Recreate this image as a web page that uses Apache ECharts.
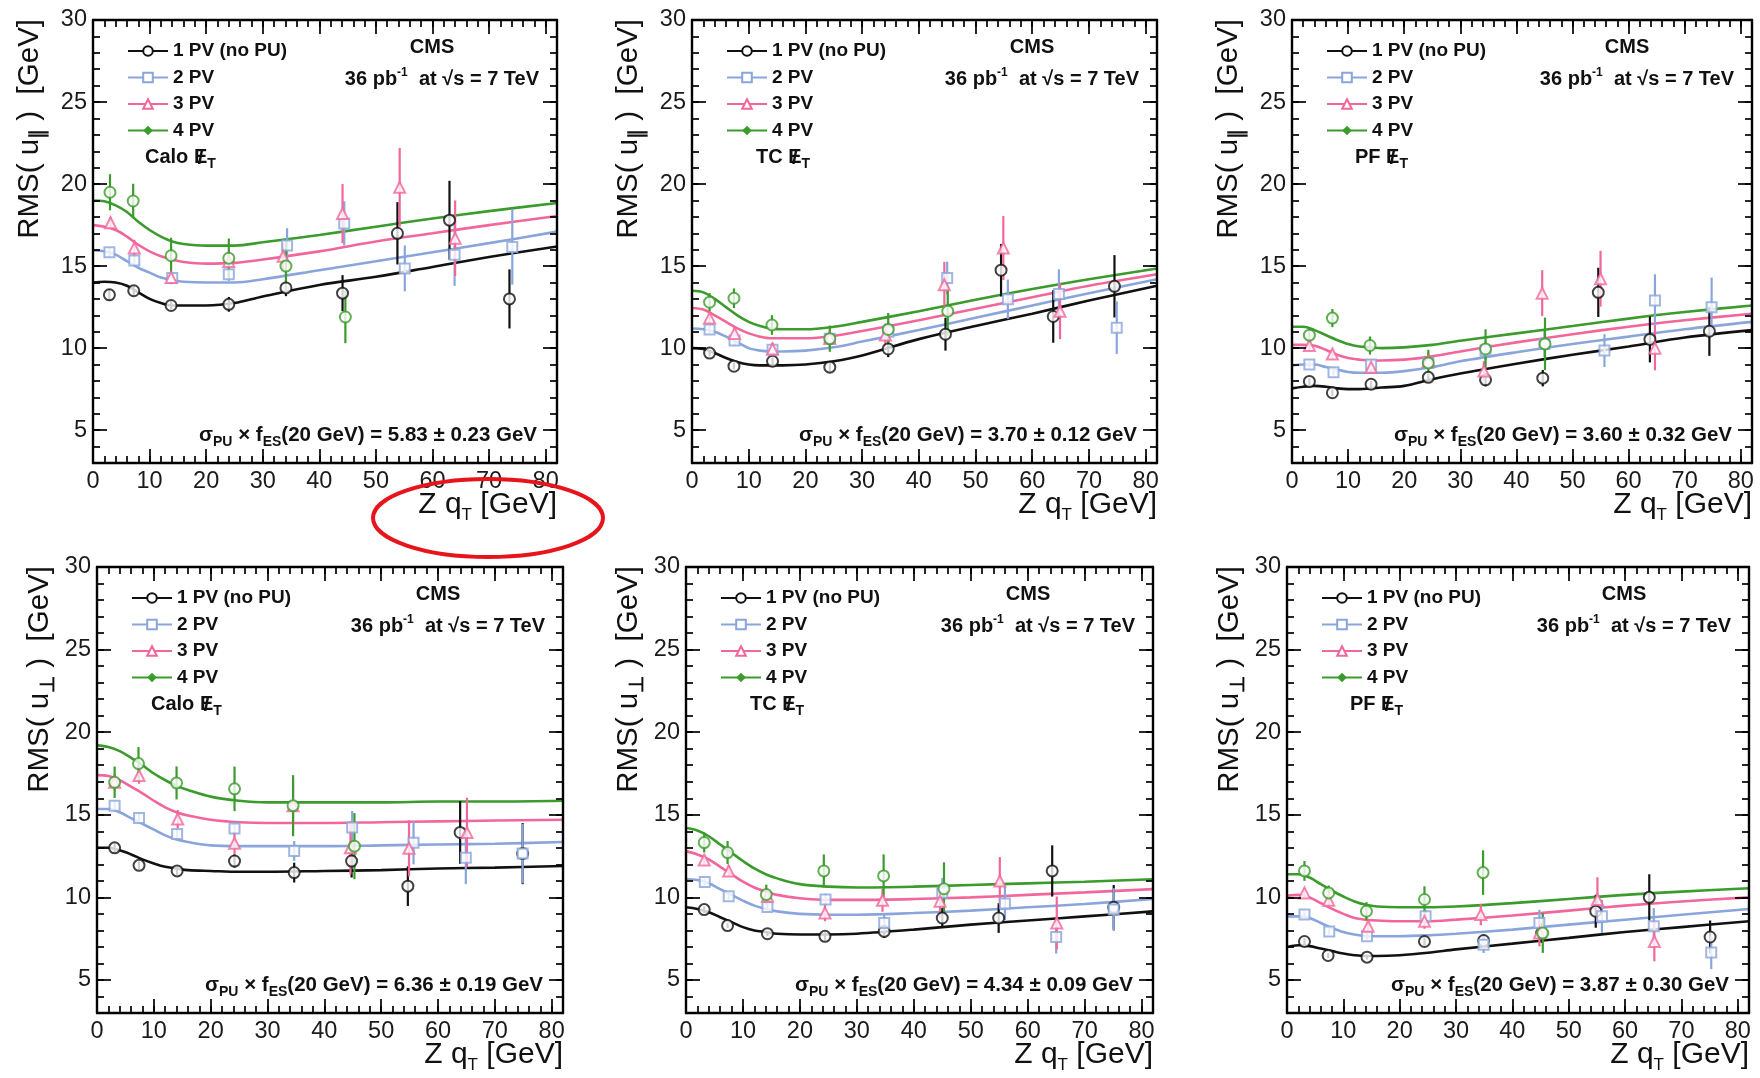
<!DOCTYPE html>
<html><head><meta charset="utf-8">
<script src="https://cdn.jsdelivr.net/npm/echarts@6/dist/echarts.min.js"></script>
<style>html,body{margin:0;padding:0;background:#fff;}#c{width:1760px;height:1078px;}</style>
</head><body><div id="c"></div>
<script>
// ---------------- DATA ----------------
const seriesNames = ['1 PV (no PU)', '2 PV', '3 PV', '4 PV'];
const xTicks = [0, 10, 20, 30, 40, 50, 60, 70, 80];
const yTicks = [5, 10, 15, 20, 25, 30];
const metLabels = ['Calo', 'TC', 'PF', 'Calo', 'TC', 'PF'];
const sigmaValues = ['5.83 ± 0.23', '3.70 ± 0.12', '3.60 ± 0.32', '6.36 ± 0.19', '4.34 ± 0.09', '3.87 ± 0.30'];
const fitX = [0, 2, 4, 6, 8, 10, 12, 14, 16, 20, 25, 30, 40, 50, 60, 70, 82];

// points: [qT, RMS, error]
const calo_par_pv1 = [[2.9,13.25,0.35],[7.2,13.5,0.3],[13.8,12.6,0.25],[24,12.67,0.45],[34.1,13.67,0.5],[44.1,13.35,1.1],[53.8,17.0,1.9],[63,17.8,2.4],[73.6,13.0,1.8]];
const calo_par_pv2 = [[2.9,15.84,0.3],[7.3,15.34,0.3],[14,14.27,0.3],[24,14.5,0.4],[34.3,16.26,1.05],[44.4,17.6,1.35],[55.1,14.86,1.4],[63.9,15.7,1.9],[74.1,16.17,2.3]];
const calo_par_pv3 = [[3.1,17.64,0.35],[7.3,16.1,0.5],[13.8,14.3,0.4],[24,15.28,0.6],[33.6,15.6,0.8],[44.1,18.2,1.8],[54.2,19.8,2.4],[64,16.7,2.3]];
const calo_par_pv4 = [[3,19.5,1.1],[7.1,18.97,1.05],[13.8,15.63,1.1],[24,15.48,1.2],[34.1,15.0,1.6],[44.6,11.9,1.6]];
const calo_par_fit1 = [14.0,14.05,14.0,13.8,13.4,13.0,12.75,12.6,12.6,12.6,12.75,13.15,13.85,14.35,14.95,15.55,16.2];
const calo_par_fit2 = [15.95,15.9,15.7,15.3,14.9,14.6,14.3,14.15,14.05,14.0,14.0,14.2,14.75,15.3,15.85,16.4,17.1];
const calo_par_fit3 = [17.5,17.4,17.2,16.8,16.3,15.9,15.6,15.4,15.25,15.15,15.2,15.4,15.9,16.5,17.0,17.5,18.05];
const calo_par_fit4 = [19.0,18.95,18.7,18.3,17.7,17.2,16.8,16.5,16.35,16.25,16.25,16.45,16.9,17.4,17.9,18.35,18.85];

const tc_par_pv1 = [[3.1,9.7,0.2],[7.4,8.9,0.2],[14.2,9.2,0.25],[24.3,8.84,0.3],[34.6,9.95,0.5],[44.7,10.85,1.0],[54.5,14.75,1.6],[63.7,11.93,1.6],[74.5,13.77,1.9]];
const tc_par_pv2 = [[3.1,11.14,0.25],[7.5,10.47,0.3],[14.2,9.9,0.3],[24.3,10.57,0.4],[34.6,11.0,0.6],[45,14.27,1.0],[55.7,12.98,1.2],[64.7,13.3,1.5],[74.9,11.25,1.6]];
const tc_par_pv3 = [[3.1,11.83,0.3],[7.5,10.9,0.4],[14.2,9.95,0.4],[24.3,10.6,0.5],[34.1,10.8,0.7],[44.5,13.86,1.4],[54.9,16.1,1.95],[64.9,12.25,1.7]];
const tc_par_pv4 = [[3.1,12.8,0.55],[7.4,13.04,0.6],[14.1,11.41,0.6],[24.3,10.58,0.8],[34.6,11.14,1.0],[45.1,12.25,1.5]];
const tc_par_fit1 = [10.0,9.95,9.7,9.4,9.15,9.0,8.95,8.95,8.95,9.0,9.2,9.55,10.55,11.35,12.1,12.9,13.8];
const tc_par_fit2 = [11.2,11.15,11.0,10.7,10.35,10.0,9.85,9.8,9.8,9.85,10.05,10.4,11.1,11.85,12.6,13.35,14.2];
const tc_par_fit3 = [12.45,12.35,12.0,11.6,11.2,10.9,10.7,10.6,10.6,10.6,10.75,11.05,11.7,12.4,13.1,13.8,14.5];
const tc_par_fit4 = [13.5,13.4,13.0,12.5,12.0,11.6,11.35,11.2,11.15,11.15,11.3,11.6,12.25,12.95,13.6,14.2,14.85];

const pf_par_pv1 = [[3.1,7.97,0.2],[7.2,7.28,0.2],[14.1,7.8,0.2],[24.3,8.22,0.3],[34.5,8.07,0.4],[44.7,8.17,0.5],[54.6,13.4,1.5],[63.8,10.53,1.4],[74.4,11.03,1.5]];
const pf_par_pv2 = [[3.1,9.01,0.2],[7.4,8.53,0.2],[14.1,9.0,0.25],[24.3,9.1,0.35],[34.5,9.85,0.6],[45,10.26,0.8],[55.7,9.85,1.0],[64.7,12.9,1.6],[74.8,12.5,1.8]];
const pf_par_pv3 = [[3.1,10.16,0.3],[7.2,9.64,0.3],[14.1,8.84,0.35],[24.3,9.2,0.5],[34.2,8.6,0.6],[44.6,13.35,1.4],[55,14.23,1.7],[64.7,10.0,1.35]];
const pf_par_pv4 = [[3.1,10.79,0.5],[7.2,11.83,0.55],[13.9,10.16,0.55],[24.3,9.1,0.8],[34.5,9.95,1.2],[45.1,10.26,1.6]];
const pf_par_fit1 = [7.55,7.65,7.7,7.65,7.55,7.5,7.5,7.55,7.6,7.7,8.1,8.45,9.05,9.6,10.1,10.65,11.1];
const pf_par_fit2 = [8.95,9.0,9.0,8.85,8.7,8.55,8.5,8.5,8.5,8.6,8.85,9.2,9.75,10.25,10.7,11.15,11.6];
const pf_par_fit3 = [10.2,10.2,10.15,9.9,9.6,9.4,9.3,9.25,9.25,9.3,9.5,9.8,10.35,10.85,11.3,11.7,12.1];
const pf_par_fit4 = [11.3,11.3,11.1,10.8,10.5,10.25,10.1,10.05,10.0,10.05,10.2,10.45,10.9,11.35,11.8,12.2,12.6];

const calo_perp_pv1 = [[3.1,13.0,0.3],[7.4,11.94,0.25],[14.1,11.6,0.25],[24.2,12.2,0.4],[34.7,11.5,0.6],[44.8,12.2,1.0],[54.7,10.68,1.2],[63.9,13.93,1.9],[74.9,12.65,1.85]];
const calo_perp_pv2 = [[3.1,15.55,0.3],[7.4,14.8,0.3],[14.1,13.83,0.3],[24.2,14.17,0.4],[34.7,12.81,0.6],[44.9,14.23,1.0],[55.7,13.3,1.3],[64.9,12.4,1.6],[74.9,12.65,1.8]];
const calo_perp_pv3 = [[3.1,16.97,0.5],[7.4,17.38,0.5],[14.2,14.74,0.55],[24.2,13.28,0.7],[34.5,15.55,1.5],[44.6,13.0,1.6],[54.9,12.97,1.7],[65.1,13.93,2.1]];
const calo_perp_pv4 = [[3.1,16.97,0.95],[7.3,18.1,1.0],[14,16.93,1.0],[24.2,16.57,1.35],[34.5,15.55,1.85],[45.3,13.1,2.0]];
const calo_perp_fit1 = [13.0,13.0,12.85,12.6,12.3,12.05,11.85,11.75,11.65,11.6,11.55,11.55,11.6,11.65,11.75,11.8,11.9];
const calo_perp_fit2 = [15.35,15.35,15.15,14.8,14.45,14.1,13.75,13.5,13.35,13.15,13.1,13.1,13.1,13.15,13.2,13.25,13.35];
const calo_perp_fit3 = [17.4,17.35,17.1,16.7,16.3,15.85,15.45,15.15,14.95,14.7,14.55,14.5,14.5,14.55,14.6,14.65,14.7];
const calo_perp_fit4 = [19.2,19.1,18.85,18.45,18.0,17.5,17.1,16.75,16.5,16.1,15.85,15.75,15.75,15.75,15.8,15.8,15.85];

const tc_perp_pv1 = [[3.2,9.26,0.2],[7.3,8.29,0.15],[14.3,7.8,0.15],[24.4,7.64,0.25],[34.8,7.94,0.4],[45,8.75,0.6],[54.9,8.75,0.9],[64.3,11.6,1.55],[75.1,9.4,1.35]];
const tc_perp_pv2 = [[3.3,10.93,0.2],[7.5,10.07,0.2],[14.3,9.42,0.25],[24.5,9.87,0.35],[34.8,8.45,0.5],[45,10.28,0.9],[56,9.63,1.0],[65,7.6,1.0],[75.1,9.26,1.3]];
const tc_perp_pv3 = [[3.2,12.26,0.3],[7.5,11.6,0.35],[14.3,10.07,0.35],[24.4,9.06,0.5],[34.5,9.83,0.7],[44.6,9.77,1.0],[55.1,10.99,1.45],[65.1,8.45,1.6]];
const tc_perp_pv4 = [[3.2,13.32,0.6],[7.3,12.71,0.7],[14.1,10.17,0.6],[24.2,11.6,1.0],[34.7,11.3,1.3],[45.3,10.52,1.6]];
const tc_perp_fit1 = [9.4,9.3,9.1,8.8,8.5,8.2,8.0,7.9,7.8,7.75,7.75,7.8,8.05,8.35,8.6,8.85,9.15];
const tc_perp_fit2 = [11.1,11.05,10.85,10.5,10.15,9.8,9.5,9.3,9.15,9.0,8.95,8.95,9.05,9.2,9.4,9.6,9.9];
const tc_perp_fit3 = [12.8,12.6,12.3,11.85,11.4,10.95,10.6,10.35,10.15,9.95,9.85,9.85,9.9,10.0,10.15,10.3,10.5];
const tc_perp_fit4 = [14.2,14.05,13.7,13.2,12.7,12.2,11.75,11.4,11.15,10.8,10.65,10.6,10.65,10.75,10.85,10.95,11.1];

const pf_perp_pv1 = [[3.1,7.33,0.2],[7.3,6.48,0.15],[14.2,6.38,0.15],[24.4,7.33,0.25],[34.9,7.39,0.35],[45.2,7.84,0.6],[54.8,9.16,1.0],[64.3,10.0,1.4],[75.1,7.6,1.0]];
const pf_perp_pv2 = [[3.1,8.96,0.2],[7.5,7.94,0.2],[14.2,7.64,0.2],[24.6,8.85,0.4],[34.9,7.13,0.5],[44.8,8.45,0.8],[55.9,8.85,1.0],[65.1,8.25,1.1],[75.3,6.66,1.0]];
const pf_perp_pv3 = [[3.1,10.27,0.3],[7.4,9.83,0.3],[14.4,8.25,0.3],[24.4,8.55,0.45],[34.4,8.96,0.65],[44.8,7.84,0.8],[55.1,9.87,1.35],[65.2,7.33,1.2]];
const pf_perp_pv4 = [[3.1,11.6,0.6],[7.4,10.27,0.45],[14.1,9.16,0.55],[24.4,9.87,0.8],[34.8,11.5,1.35],[45.4,7.84,1.2]];
const pf_perp_fit1 = [7.0,7.1,7.05,6.9,6.75,6.6,6.5,6.45,6.45,6.5,6.65,6.85,7.2,7.55,7.9,8.2,8.55];
const pf_perp_fit2 = [8.85,8.85,8.75,8.45,8.15,7.9,7.75,7.65,7.65,7.65,7.7,7.8,8.05,8.35,8.65,8.95,9.3];
const pf_perp_fit3 = [10.1,10.15,10.0,9.65,9.3,9.0,8.75,8.65,8.6,8.55,8.55,8.65,8.9,9.2,9.5,9.75,10.0];
const pf_perp_fit4 = [11.4,11.4,11.2,10.8,10.4,10.05,9.75,9.55,9.45,9.4,9.4,9.45,9.65,9.9,10.15,10.35,10.55];

// ---------------- LAYOUT / STYLE ----------------
const FONT = '"Liberation Sans", Arial, Helvetica, sans-serif';
const COLORS = ['#111111', '#8aa5dc', '#f2679b', '#3b9b2c'];
const DATA_SYM = ['emptyCircle', 'emptyRect', 'emptyTriangle', 'emptyCircle'];
const LEG_SYM = ['emptyCircle', 'emptyRect', 'emptyTriangle', 'diamond'];
const GRIDS = [
  {left: 93, top: 20, width: 464, height: 443},
  {left: 692, top: 20, width: 465, height: 443},
  {left: 1292, top: 20, width: 460, height: 443},
  {left: 97, top: 567, width: 466, height: 446},
  {left: 686, top: 567, width: 467, height: 446},
  {left: 1287, top: 567, width: 462, height: 446}
];
const PANELS = [
  {pts: [calo_par_pv1, calo_par_pv2, calo_par_pv3, calo_par_pv4], fits: [calo_par_fit1, calo_par_fit2, calo_par_fit3, calo_par_fit4], perp: false, metDx: 52},
  {pts: [tc_par_pv1, tc_par_pv2, tc_par_pv3, tc_par_pv4], fits: [tc_par_fit1, tc_par_fit2, tc_par_fit3, tc_par_fit4], perp: false, metDx: 64},
  {pts: [pf_par_pv1, pf_par_pv2, pf_par_pv3, pf_par_pv4], fits: [pf_par_fit1, pf_par_fit2, pf_par_fit3, pf_par_fit4], perp: false, metDx: 63},
  {pts: [calo_perp_pv1, calo_perp_pv2, calo_perp_pv3, calo_perp_pv4], fits: [calo_perp_fit1, calo_perp_fit2, calo_perp_fit3, calo_perp_fit4], perp: true, metDx: 54},
  {pts: [tc_perp_pv1, tc_perp_pv2, tc_perp_pv3, tc_perp_pv4], fits: [tc_perp_fit1, tc_perp_fit2, tc_perp_fit3, tc_perp_fit4], perp: true, metDx: 64},
  {pts: [pf_perp_pv1, pf_perp_pv2, pf_perp_pv3, pf_perp_pv4], fits: [pf_perp_fit1, pf_perp_fit2, pf_perp_fit3, pf_perp_fit4], perp: true, metDx: 63}
];
const X_MIN = 0, X_MAX = 82, Y_MIN = 3, Y_MAX = 30;
const xMinor = []; for (let v = X_MIN; v <= X_MAX; v += 2) xMinor.push(v);
const yMinor = []; for (let v = Y_MIN; v <= Y_MAX; v += 1) yMinor.push(v);

// text measuring (for placing the slash of the missing-ET symbol)
const mctx = document.createElement('canvas').getContext('2d');
function textWidth(t, font) { mctx.font = font; return mctx.measureText(t).width; }

const chart = echarts.init(document.getElementById('c'), null, {renderer: 'canvas'});
const option = {
  animation: false,
  backgroundColor: '#ffffff',
  grid: GRIDS.map(g => ({left: g.left, top: g.top, width: g.width, height: g.height, containLabel: false, show: false})),
  xAxis: [], yAxis: [], legend: [], series: [],
  graphic: {elements: []}
};

function axisDef(i, dim, position, major, withLabels) {
  const isX = dim === 'x';
  const ticks = major ? (isX ? xTicks : yTicks) : (isX ? xMinor : yMinor);
  return {
    gridIndex: i, type: 'value',
    min: isX ? X_MIN : Y_MIN, max: isX ? X_MAX : Y_MAX,
    position: position,
    axisLine: {show: major, onZero: false, lineStyle: {color: '#000', width: 2.4}},
    axisTick: {show: true, inside: true, length: major ? 14 : 7, customValues: ticks, lineStyle: {color: '#000', width: 1.7}},
    axisLabel: withLabels ? {show: true, customValues: ticks, margin: isX ? 7 : 6, fontSize: 23.5, color: '#1a1a1a', fontFamily: FONT} : {show: false},
    splitLine: {show: false}, minorTick: {show: false}, silent: true, z: 5
  };
}

GRIDS.forEach((g, i) => {
  option.xAxis.push(axisDef(i, 'x', 'bottom', true, true));
  option.xAxis.push(axisDef(i, 'x', 'bottom', false, false));
  option.xAxis.push(axisDef(i, 'x', 'top', true, false));
  option.xAxis.push(axisDef(i, 'x', 'top', false, false));
  option.yAxis.push(axisDef(i, 'y', 'left', true, true));
  option.yAxis.push(axisDef(i, 'y', 'left', false, false));
  option.yAxis.push(axisDef(i, 'y', 'right', true, false));
  option.yAxis.push(axisDef(i, 'y', 'right', false, false));

  const P = PANELS[i];
  for (let k = 0; k < 4; k++) {
    option.series.push({
      type: 'line', name: seriesNames[k], xAxisIndex: 4 * i, yAxisIndex: 4 * i,
      data: fitX.map((x, j) => [x, P.fits[k][j]]),
      smooth: 0.35, showSymbol: false, symbol: LEG_SYM[k], symbolSize: 8,
      lineStyle: {color: COLORS[k], width: 2.6}, itemStyle: {color: COLORS[k], borderWidth: 1.6},
      z: 2, silent: true
    });
  }
  for (let k = 0; k < 4; k++) {
    const col = COLORS[k];
    option.series.push({
      type: 'custom', name: seriesNames[k], xAxisIndex: 4 * i, yAxisIndex: 4 * i,
      data: P.pts[k], encode: {x: 0, y: 1}, z: 3, silent: true,
      renderItem: function (params, api) {
        const x = api.value(0), y = api.value(1), e = api.value(2);
        const a = api.coord([x, y - e]), b = api.coord([x, y + e]);
        return {type: 'line', shape: {x1: a[0], y1: a[1], x2: b[0], y2: b[1]}, style: {stroke: col, lineWidth: 2.2}};
      }
    });
  }
  for (let k = 0; k < 4; k++) {
    option.series.push({
      type: 'scatter', name: seriesNames[k], xAxisIndex: 4 * i, yAxisIndex: 4 * i,
      data: P.pts[k].map(p => [p[0], p[1]]),
      symbol: DATA_SYM[k], symbolSize: k === 1 ? 10 : 11,
      itemStyle: {color: COLORS[k], borderWidth: 2}, z: 4, silent: true
    });
  }
  option.legend.push({
    orient: 'vertical', left: g.left + 34, top: g.top + 21, padding: 0,
    itemGap: 6.5, itemWidth: 40, itemHeight: 12, selectedMode: false,
    data: seriesNames,
    textStyle: {fontSize: 19, fontWeight: 'bold', fontFamily: FONT, color: '#111', lineHeight: 20}
  });

  const right = g.left + g.width, bottom = g.top + g.height;
  const E = option.graphic.elements;
  E.push({type: 'text', x: right - 125, y: g.top + 27, z: 10, style: {text: 'CMS', fontSize: 20, fontWeight: 'bold', fontFamily: FONT, fill: '#111', align: 'center', verticalAlign: 'middle'}});
  E.push({type: 'text', x: right - 18, y: g.top + 59, z: 10, style: {
    text: '36 pb{p|-1}  at √s = 7 TeV', fontSize: 20, fontWeight: 'bold', fontFamily: FONT, fill: '#111', align: 'right', verticalAlign: 'middle',
    rich: {p: {fontSize: 12, fontWeight: 'bold', fontFamily: FONT, fill: '#111', padding: [0, 0, 13, 0]}}}});
  const metFont = 'bold 20px ' + FONT;
  const metX = g.left + P.metDx, metY = g.top + 137;
  E.push({type: 'text', x: metX, y: metY, z: 10, style: {
    text: metLabels[i] + ' E{s|T}', fontSize: 20, fontWeight: 'bold', fontFamily: FONT, fill: '#111', align: 'left', verticalAlign: 'middle',
    rich: {s: {fontSize: 14, fontWeight: 'bold', fontFamily: FONT, fill: '#111', padding: [14, 0, 0, 0]}}}});
  const eX = metX + textWidth(metLabels[i] + ' ', metFont) + textWidth('E', metFont) / 2;
  E.push({type: 'text', x: eX, y: metY + 1, z: 11, style: {text: '/', fontSize: 21, fontWeight: 'bold', fontFamily: FONT, fill: '#111', align: 'center', verticalAlign: 'middle'}});
  E.push({type: 'text', x: right - 20, y: bottom - 28, z: 10, style: {
    text: 'σ{s|PU} × f{s|ES}(20 GeV) = ' + sigmaValues[i] + ' GeV', fontSize: 20.5, fontWeight: 'bold', fontFamily: FONT, fill: '#111', align: 'right', verticalAlign: 'middle',
    rich: {s: {fontSize: 14, fontWeight: 'bold', fontFamily: FONT, fill: '#111', padding: [14, 0, 0, 0]}}}});
  E.push({type: 'text', x: right, y: bottom + 42, z: 10, style: {
    text: 'Z q{s|T} [GeV]', fontSize: 30, fontFamily: FONT, fill: '#111', align: 'right', verticalAlign: 'middle',
    rich: {s: {fontSize: 17, fontFamily: FONT, fill: '#111', padding: [20, 0, 0, 0]}}}});
  E.push({type: 'text', x: g.left - (i < 3 ? 63 : 57), y: g.top - 1, rotation: Math.PI / 2, z: 10, style: {
    text: 'RMS( u{s|' + (P.perp ? '⊥' : '∥') + '} )  [GeV]', fontSize: 29.5, fontFamily: FONT, fill: '#111', align: 'right', verticalAlign: 'middle',
    rich: {s: {fontSize: 20, fontWeight: 'bold', fontFamily: FONT, fill: '#111', padding: [17, 0, 0, 0]}}}});
});

// red annotation ellipse around the first x-axis title
option.graphic.elements.push({type: 'ellipse', z: 20, shape: {cx: 488, cy: 518, rx: 115, ry: 39},
  style: {fill: 'none', stroke: '#e8141b', lineWidth: 4}});

chart.setOption(option);
</script></body></html>
